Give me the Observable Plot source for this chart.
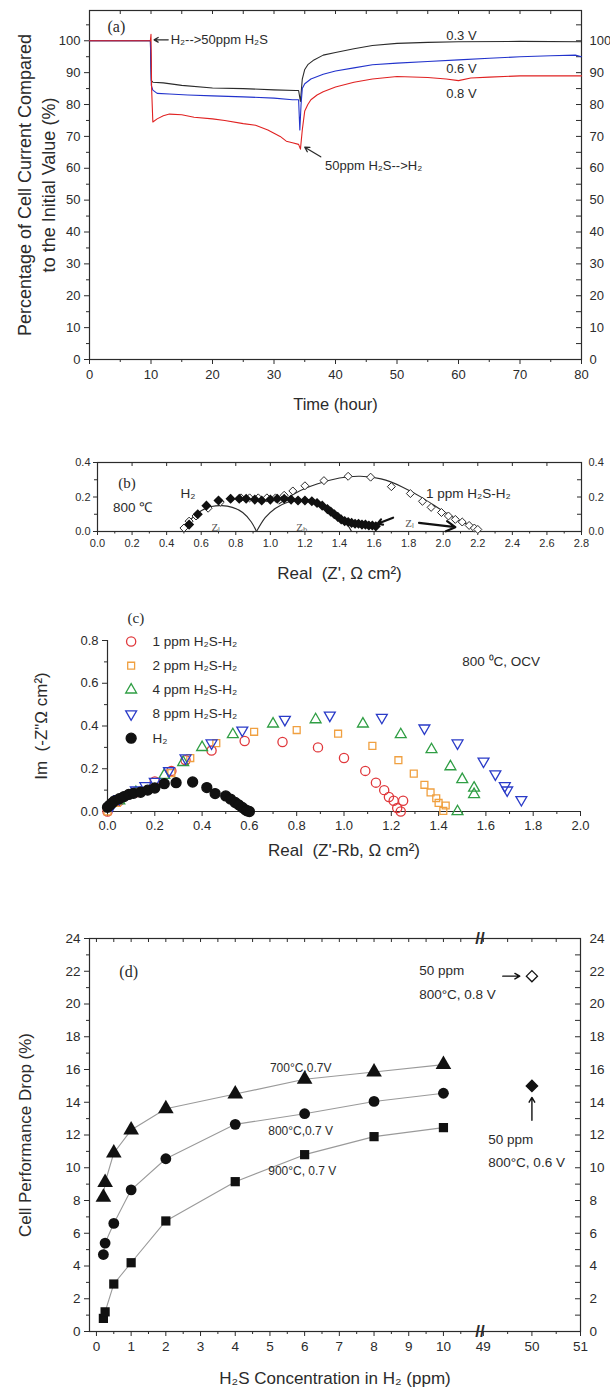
<!DOCTYPE html>
<html><head><meta charset="utf-8">
<script src="https://cdn.jsdelivr.net/npm/d3@7"></script>
<script src="https://cdn.jsdelivr.net/npm/@observablehq/plot@0.6"></script>
<style>
body{margin:0;background:#fff;}
#wrap{position:relative;width:610px;height:1391px;overflow:hidden;background:#fff;}
</style></head><body><div id="wrap"></div>
<script>
// ---------- Panel (a): current vs time ----------
const tA03 = [0, 9.9, 10.05, 10.3, 12, 15, 20, 25, 30, 33.5, 34.0, 34.3, 34.6, 35, 35.5, 36.5, 38, 40, 43, 46, 50, 55, 60, 70, 80];
const vA03 = [100, 100, 87.5, 87, 86.8, 86, 85.2, 85, 84.6, 84.4, 84.4, 81, 88, 91, 92.5, 94, 95.5, 96.3, 97.5, 98.5, 99.2, 99.5, 99.7, 99.8, 99.7];
const tA06 = [0, 9.9, 10.05, 10.3, 11, 13, 16, 20, 25, 30, 33, 34, 34.2, 34.4, 34.6, 35, 36, 38, 40, 43, 46, 50, 55, 60, 65, 70, 75, 79, 80];
const vA06 = [100, 100, 86, 84.5, 83.5, 83.3, 83, 82.7, 82.4, 82, 81.5, 81.5, 72, 80, 85, 86.5, 88, 89.5, 90.5, 91.5, 92.5, 93, 93.5, 94, 94.5, 95, 95.3, 95.5, 95];
const tA08 = [0, 9.9, 10.0, 10.1, 10.3, 11, 12, 13, 15, 17, 20, 22, 25, 27, 29, 30, 31, 32, 33, 34, 34.3, 34.6, 35, 35.5, 36, 37, 38, 40, 43, 46, 50, 55, 58, 60, 62, 65, 70, 75, 80];
const vA08 = [100, 100, 102, 85, 74.5, 75.5, 76.5, 77, 76.8, 76, 75.5, 75, 74, 73.5, 72, 71, 70, 68.5, 68, 67.5, 66, 72, 78, 80, 81.5, 83, 84, 85.5, 87, 88, 88.8, 88.5, 88, 87.5, 88.3, 88.6, 89, 89, 89];
const seriesA = ["0.3 V", "0.6 V", "0.8 V"];
const colorsA = ["#2b2b2b", "#2233cc", "#e02222"];
const xTicksA = [0, 10, 20, 30, 40, 50, 60, 70, 80];
const yTicksA = [0, 10, 20, 30, 40, 50, 60, 70, 80, 90, 100];
const notesA = [
  {t: 13.2, v: 100.3, s: "H₂-->50ppm H₂S", t0: 12.8, v0: 100.3, t1: 10.5, v1: 100.3},
  {t: 38.3, v: 60.8, s: "50ppm H₂S-->H₂", t0: 37.6, v0: 63.6, t1: 35.0, v1: 66.6}
];
const voltLabels = [{t: 58, v: 101.6, s: "0.3 V"}, {t: 58, v: 91.2, s: "0.6 V"}, {t: 58, v: 83.2, s: "0.8 V"}];

// ---------- Panel (b): Nyquist with fits ----------
const bOpenX = [0.50, 0.53, 0.57, 0.64, 0.71, 0.77, 0.83, 0.88, 0.93, 0.98, 1.03, 1.08, 1.13, 1.20, 1.31, 1.45, 1.58, 1.70, 1.81, 1.88, 1.93, 1.99, 2.03, 2.07, 2.11, 2.15, 2.18, 2.20];
const bOpenY = [0.02, 0.06, 0.09, 0.135, 0.17, 0.19, 0.195, 0.195, 0.195, 0.195, 0.195, 0.21, 0.235, 0.265, 0.295, 0.32, 0.315, 0.26, 0.22, 0.175, 0.14, 0.11, 0.09, 0.07, 0.055, 0.035, 0.02, 0.012];
const bFillX = [0.53, 0.58, 0.63, 0.70, 0.77, 0.82, 0.86, 0.91, 0.95, 1.00, 1.04, 1.08, 1.12, 1.16, 1.20, 1.24, 1.27, 1.30, 1.33, 1.35, 1.37, 1.39, 1.41, 1.43, 1.45, 1.47, 1.49, 1.51, 1.53, 1.55, 1.57, 1.59, 1.61];
const bFillY = [0.04, 0.10, 0.15, 0.18, 0.19, 0.19, 0.19, 0.185, 0.18, 0.185, 0.19, 0.19, 0.185, 0.18, 0.18, 0.175, 0.165, 0.15, 0.13, 0.115, 0.10, 0.085, 0.07, 0.06, 0.055, 0.05, 0.045, 0.045, 0.04, 0.04, 0.035, 0.035, 0.03];
const arcLX = [0.50, 0.54, 0.60, 0.66, 0.72, 0.78, 0.84, 0.89, 0.92];
const arcLY = [0.0, 0.07, 0.12, 0.145, 0.15, 0.14, 0.11, 0.055, 0.0];
const arcHX = [0.92, 0.97, 1.03, 1.10, 1.20, 1.30, 1.38, 1.44, 1.47];
const arcHY = [0.0, 0.08, 0.135, 0.17, 0.185, 0.16, 0.10, 0.045, 0.0];
const arcSX = [1.05, 1.15, 1.27, 1.40, 1.52, 1.64, 1.76, 1.88, 1.98, 2.08, 2.15, 2.20];
const arcSY = [0.16, 0.225, 0.275, 0.31, 0.32, 0.305, 0.26, 0.195, 0.13, 0.07, 0.035, 0.0];
const xTicksB = [0, 0.2, 0.4, 0.6, 0.8, 1.0, 1.2, 1.4, 1.6, 1.8, 2.0, 2.2, 2.4, 2.6, 2.8];
const yTicksB = [0, 0.2, 0.4];
const notesB = [
  {x: 0.17, y: 0.28, s: "(b)", serif: true},
  {x: 0.48, y: 0.22, s: "H₂"},
  {x: 0.09, y: 0.14, s: "800 ℃"},
  {x: 1.90, y: 0.22, s: "1 ppm H₂S-H₂"},
  {x: 0.66, y: 0.025, s: "Zₗ", small: true},
  {x: 1.15, y: 0.025, s: "Zₕ", small: true},
  {x: 1.78, y: 0.045, s: "Zₗ", small: true}
];
const arrowsB = [
  {x1: 1.71, y1: 0.08, x2: 1.62, y2: 0.045},
  {x1: 1.86, y1: 0.05, x2: 2.07, y2: 0.025}
];

// ---------- Panel (c): Nyquist, H2S levels ----------
const c1X = [0.0, 0.05, 0.12, 0.20, 0.27, 0.33, 0.44, 0.58, 0.74, 0.89, 1.00, 1.09, 1.135, 1.17, 1.19, 1.21, 1.225, 1.24, 1.25];
const c1Y = [0.0, 0.05, 0.09, 0.14, 0.19, 0.24, 0.285, 0.33, 0.325, 0.30, 0.25, 0.19, 0.135, 0.10, 0.068, 0.05, 0.016, 0.0, 0.05];
const c2X = [0.0, 0.04, 0.12, 0.27, 0.35, 0.46, 0.62, 0.80, 0.975, 1.12, 1.23, 1.295, 1.34, 1.366, 1.39, 1.40, 1.43, 1.42];
const c2Y = [0.0, 0.04, 0.09, 0.18, 0.25, 0.32, 0.373, 0.381, 0.364, 0.307, 0.24, 0.177, 0.125, 0.089, 0.062, 0.04, 0.028, 0.003];
const c4X = [0.05, 0.12, 0.24, 0.32, 0.40, 0.53, 0.70, 0.88, 1.08, 1.24, 1.37, 1.45, 1.50, 1.55, 1.55, 1.48];
const c4Y = [0.05, 0.09, 0.17, 0.23, 0.30, 0.36, 0.41, 0.43, 0.41, 0.36, 0.29, 0.21, 0.15, 0.11, 0.08, 0.0];
const c8X = [0.02, 0.05, 0.12, 0.16, 0.20, 0.26, 0.33, 0.44, 0.57, 0.75, 0.94, 1.16, 1.34, 1.48, 1.59, 1.64, 1.68, 1.69, 1.75];
const c8Y = [0.03, 0.06, 0.10, 0.12, 0.14, 0.19, 0.25, 0.32, 0.38, 0.43, 0.45, 0.44, 0.39, 0.32, 0.235, 0.175, 0.12, 0.10, 0.055];
const cHX = [0.0, 0.01, 0.02, 0.03, 0.05, 0.07, 0.09, 0.11, 0.14, 0.17, 0.20, 0.24, 0.29, 0.36, 0.42, 0.455, 0.50, 0.52, 0.54, 0.555, 0.57, 0.583, 0.59, 0.60];
const cHY = [0.02, 0.03, 0.04, 0.05, 0.06, 0.07, 0.08, 0.085, 0.09, 0.10, 0.11, 0.13, 0.135, 0.138, 0.112, 0.084, 0.073, 0.058, 0.042, 0.031, 0.019, 0.008, 0.003, 0.0];
const legendC = ["1 ppm H₂S-H₂", "2 ppm H₂S-H₂", "4 ppm H₂S-H₂", "8 ppm H₂S-H₂", "H₂"];
const xTicksC = [0, 0.2, 0.4, 0.6, 0.8, 1.0, 1.2, 1.4, 1.6, 1.8, 2.0];
const yTicksC = [0, 0.2, 0.4, 0.6, 0.8];

// ---------- Panel (d): performance drop ----------
const concD = [0.2, 0.25, 0.5, 1, 2, 4, 6, 8, 10];
const drop700 = [8.2, 9.1, 10.9, 12.3, 13.6, 14.5, 15.4, 15.85, 16.3];
const drop800 = [4.7, 5.4, 6.6, 8.65, 10.55, 12.65, 13.3, 14.05, 14.55];
const drop900 = [0.8, 1.2, 2.9, 4.2, 6.75, 9.15, 10.8, 11.9, 12.45];
const conc50 = 50;
const drop50_08 = 21.7;
const drop50_06 = 15.0;
const xTicksD = [0, 1, 2, 3, 4, 5, 6, 7, 8, 9, 10, 49, 50, 51];
const yTicksD = [0, 2, 4, 6, 8, 10, 12, 14, 16, 18, 20, 22, 24];
const breakD = 11.05;

// ---------- helpers ----------
const FONT = "Liberation Sans, Arial, Helvetica, sans-serif";
const SERIF = "Liberation Serif, Times New Roman, serif";
const INK = "#2b2b2b";
const wrap = document.getElementById("wrap");
function place(svg, top) {
  svg.style.position = "absolute";
  svg.style.left = "0px";
  svg.style.top = top + "px";
  wrap.appendChild(svg);
}
const rng = (a, b, s) => d3.range(Math.round((b - a) / s) + 1).map(i => +(a + i * s).toFixed(4));
const noText = () => "";
const f1 = d3.format(".1f");

// ---------- Panel (a) ----------
{
  const rows = [];
  [[tA03, vA03], [tA06, vA06], [tA08, vA08]].forEach(([ts, vs], k) =>
    ts.forEach((t, i) => rows.push({t, v: vs[i], s: seriesA[k]})));
  const W = 610, H = 420, mt = 10, mb = 61, ml = 89, mr = 29;
  const iw = W - ml - mr, ih = H - mt - mb;
  const svg = Plot.plot({
    width: W, height: H, marginTop: mt, marginBottom: mb, marginLeft: ml, marginRight: mr,
    x: {domain: [0, 80]}, y: {domain: [0, 109.5]},
    color: {domain: seriesA, range: colorsA},
    style: {fontFamily: FONT, fontSize: "13px", color: INK, background: "white", overflow: "visible"},
    marks: [
      Plot.frame({stroke: INK, strokeWidth: 1.2}),
      Plot.axisX({ticks: xTicksA, tickSize: 5, tickPadding: 5, fontSize: 13, label: null}),
      Plot.axisX({ticks: rng(5, 75, 10), tickSize: 3, tickFormat: noText, label: null}),
      Plot.tickX(rng(0, 80, 5), {x: d => d, insetBottom: ih - 4, stroke: INK}),
      Plot.axisY({ticks: yTicksA, tickSize: 5, tickPadding: 4, fontSize: 13, label: null}),
      Plot.axisY({ticks: rng(5, 105, 10), tickSize: 3, tickFormat: noText, label: null}),
      Plot.axisY({anchor: "right", ticks: yTicksA, tickSize: 0, tickPadding: 8, fontSize: 13, label: null}),
      Plot.tickY(rng(0, 105, 5), {y: d => d, insetLeft: iw - 5, stroke: INK}),
      Plot.line(rows, {x: "t", y: "v", z: "s", stroke: "s", strokeWidth: 1.1}),
      Plot.text(["(a)"], {frameAnchor: "top-left", dx: 18, dy: 10, fontFamily: SERIF, fontSize: 16, fill: INK}),
      Plot.text(notesA, {x: "t", y: "v", text: "s", textAnchor: "start", fontSize: 13, fill: INK}),
      Plot.arrow(notesA, {x1: "t0", y1: "v0", x2: "t1", y2: "v1", stroke: INK, strokeWidth: 1.3, headLength: 6}),
      Plot.text(voltLabels, {x: "t", y: "v", text: "s", textAnchor: "start", fontSize: 13, fill: INK}),
      Plot.text(["Percentage of Cell Current Compared\nto the Initial Value (%)"], {frameAnchor: "left", textAnchor: "middle", rotate: -90, dx: -54, dy: 0, fontSize: 18, lineHeight: 1.35, fill: INK}),
      Plot.text(["Time (hour)"], {frameAnchor: "bottom", dy: 50, fontSize: 16.5, fill: INK})
    ]
  });
  place(svg, 0);
}

// ---------- Panel (b) ----------
{
  const open = bOpenX.map((x, i) => ({x, y: bOpenY[i]}));
  const fill = bFillX.map((x, i) => ({x, y: bFillY[i]}));
  const arcs = [[arcLX, arcLY, "l"], [arcHX, arcHY, "h"], [arcSX, arcSY, "s"]]
    .flatMap(([xs, ys, k]) => xs.map((x, i) => ({x, y: ys[i], k})));
  const W = 610, H = 150, mt = 22, mb = 59, ml = 97, mr = 29;
  const iw = W - ml - mr, ih = H - mt - mb;
  const svg = Plot.plot({
    width: W, height: H, marginTop: mt, marginBottom: mb, marginLeft: ml, marginRight: mr,
    x: {domain: [0, 2.8]}, y: {domain: [0, 0.4]},
    style: {fontFamily: FONT, fontSize: "11px", color: INK, background: "white", overflow: "visible"},
    marks: [
      Plot.frame({stroke: INK, strokeWidth: 1.2}),
      Plot.axisX({ticks: xTicksB, tickSize: 4, tickPadding: 4, tickFormat: f1, fontSize: 11, label: null, style: {letterSpacing: "1px"}}),
      Plot.axisX({ticks: rng(0.1, 2.7, 0.2), tickSize: 2.5, tickFormat: noText, label: null}),
      Plot.tickX(rng(0, 2.8, 0.2), {x: d => d, insetBottom: ih - 4, stroke: INK}),
      Plot.axisY({ticks: yTicksB, tickSize: 4, tickPadding: 3, tickFormat: f1, fontSize: 11, label: null, style: {letterSpacing: "1px"}}),
      Plot.axisY({ticks: [0.1, 0.3], tickSize: 3, tickFormat: noText, label: null}),
      Plot.axisY({anchor: "right", ticks: yTicksB, tickSize: 0, tickPadding: 7, tickFormat: f1, fontSize: 11, label: null, style: {letterSpacing: "1px"}}),
      Plot.tickY(rng(0, 0.4, 0.1), {y: d => d, insetLeft: iw - 4, stroke: INK}),
      Plot.line(arcs, {x: "x", y: "y", z: "k", curve: "natural", stroke: INK, strokeWidth: 1.1}),
      Plot.dot(open, {x: "x", y: "y", symbol: "diamond2", r: 3.6, stroke: INK, fill: "white", strokeWidth: 1}),
      Plot.dot(fill, {x: "x", y: "y", symbol: "diamond2", r: 3.6, fill: "#111", stroke: "#111"}),
      Plot.arrow(arrowsB, {x1: "x1", y1: "y1", x2: "x2", y2: "y2", stroke: "#111", strokeWidth: 2.2, headLength: 7}),
      Plot.text(notesB.filter(d => d.serif), {x: "x", y: "y", text: "s", fontFamily: SERIF, fontSize: 15, fill: INK}),
      Plot.text(notesB.filter(d => !d.serif && !d.small), {x: "x", y: "y", text: "s", textAnchor: "start", fontSize: 13.5, fill: INK}),
      Plot.text(notesB.filter(d => d.small), {x: "x", y: "y", text: "s", textAnchor: "start", fontFamily: SERIF, fontSize: 11, fill: "#555"}),
      Plot.text(["Real  (Z', Ω cm²)"], {frameAnchor: "bottom", dy: 47, fontSize: 17, fill: INK})
    ]
  });
  place(svg, 440);
}

// ---------- Panel (c) ----------
{
  const sets = [[c1X, c1Y], [c2X, c2Y], [c4X, c4Y], [c8X, c8Y], [cHX, cHY]]
    .map(([xs, ys]) => xs.map((x, i) => ({x, y: ys[i]})));
  const cols = ["#e0383c", "#f0a040", "#2f9e44", "#2a3bc8", "#111"];
  const syms = ["circle", "square2", "triangle2", "triangle2", "circle"];
  const rads = [4.6, 4.4, 5.2, 5.2, 5];
  const rots = [0, 0, 0, 180, 0];
  const legRows = legendC.map((s, i) => ({s, i, x: 0.1, tx: 0.19, y: 0.795 - i * 0.113}));
  const W = 610, H = 270, mt = 40, mb = 59, ml = 107, mr = 30;
  const dotMark = (data, i) => Plot.dot(data, {
    x: "x", y: "y", symbol: syms[i], r: rads[i], rotate: rots[i],
    stroke: cols[i], strokeWidth: 1.3, fill: i === 4 ? "#111" : "none"
  });
  const svg = Plot.plot({
    width: W, height: H, marginTop: mt, marginBottom: mb, marginLeft: ml, marginRight: mr,
    x: {domain: [0, 2.0]}, y: {domain: [0, 0.8]},
    style: {fontFamily: FONT, fontSize: "13px", color: INK, background: "white", overflow: "visible"},
    marks: [
      Plot.ruleX([0], {stroke: INK, strokeWidth: 1.2}),
      Plot.ruleY([0], {stroke: INK, strokeWidth: 1.2}),
      Plot.axisX({ticks: xTicksC, tickSize: 5, tickPadding: 4, tickFormat: f1, fontSize: 13, label: null}),
      Plot.axisX({ticks: rng(0.1, 1.9, 0.2), tickSize: 3, tickFormat: noText, label: null}),
      Plot.axisY({ticks: yTicksC, tickSize: 5, tickPadding: 4, tickFormat: f1, fontSize: 13, label: null}),
      Plot.axisY({ticks: rng(0.1, 0.7, 0.2), tickSize: 3, tickFormat: noText, label: null}),
      ...sets.map((d, i) => dotMark(d, i)),
      ...legRows.map(d => dotMark([{x: d.x, y: d.y}], d.i)),
      Plot.text(legRows, {x: "tx", y: "y", text: "s", textAnchor: "start", fontSize: 13.5, fill: INK}),
      Plot.text(["800 ⁰C, OCV"], {x: [1.5], y: [0.70], textAnchor: "start", fontSize: 13.5, fill: INK}),
      Plot.text(["(c)"], {frameAnchor: "top-left", dx: 20, dy: -28, fontFamily: SERIF, fontSize: 15, fill: INK}),
      Plot.text(["Im  (-Z\"Ω cm²)"], {frameAnchor: "left", textAnchor: "middle", rotate: -90, dx: -66, fontSize: 17, fill: INK}),
      Plot.text(["Real  (Z'-Rb, Ω cm²)"], {frameAnchor: "bottom", dy: 44, fontSize: 17, fill: INK})
    ]
  });
  place(svg, 600);
}

// ---------- Panel (d) ----------
{
  const brk = v => v < 30 ? v : 11.15 + (v - 49) * 1.40;
  const rows = [
    ...concD.map((c, i) => ({x: brk(c), y: drop700[i], s: "t"})),
    ...concD.map((c, i) => ({x: brk(c), y: drop800[i], s: "c"})),
    ...concD.map((c, i) => ({x: brk(c), y: drop900[i], s: "q"}))
  ];
  const W = 610, H = 491, mt = 38, mb = 60, ml = 89, mr = 30;
  const iw = W - ml - mr, ih = H - mt - mb;
  const tickLab = new Map(xTicksD.map(v => [+brk(v).toFixed(4), String(v)]));
  const minorX = [...rng(0.5, 9.5, 1), 10.5, 49.5, 50.5].map(brk);
  const svg = Plot.plot({
    width: W, height: H, marginTop: mt, marginBottom: mb, marginLeft: ml, marginRight: mr,
    x: {domain: [-0.2, brk(51)]}, y: {domain: [0, 24]},
    style: {fontFamily: FONT, fontSize: "13.5px", color: INK, background: "white", overflow: "visible"},
    marks: [
      Plot.frame({stroke: INK, strokeWidth: 1.2}),
      Plot.axisX({ticks: xTicksD.map(brk), tickSize: 5, tickPadding: 5, tickFormat: v => tickLab.get(+v.toFixed(4)), fontSize: 13.5, label: null}),
      Plot.axisX({ticks: minorX, tickSize: 3, tickFormat: noText, label: null}),
      Plot.tickX([...xTicksD.map(brk), ...minorX], {x: d => d, insetBottom: ih - 4, stroke: INK}),
      Plot.axisY({ticks: yTicksD, tickSize: 5, tickPadding: 4, fontSize: 13.5, label: null}),
      Plot.axisY({ticks: rng(1, 23, 2), tickSize: 3, tickFormat: noText, label: null}),
      Plot.axisY({anchor: "right", ticks: yTicksD, tickSize: 0, tickPadding: 9, fontSize: 13.5, label: null}),
      Plot.tickY(rng(0, 24, 1), {y: d => d, insetLeft: iw - 5, stroke: INK}),
      Plot.line(rows, {x: "x", y: "y", z: "s", stroke: "#9a9a9a", strokeWidth: 1.1}),
      Plot.dot(rows.filter(d => d.s === "t"), {x: "x", y: "y", symbol: "triangle", r: 5.8, fill: "#111"}),
      Plot.dot(rows.filter(d => d.s === "c"), {x: "x", y: "y", symbol: "circle", r: 5.4, fill: "#111"}),
      Plot.dot(rows.filter(d => d.s === "q"), {x: "x", y: "y", symbol: "square", r: 5.2, fill: "#111"}),
      Plot.dot([{x: brk(conc50), y: drop50_08}], {x: "x", y: "y", symbol: "diamond2", r: 5, stroke: "#111", fill: "white", strokeWidth: 1.3}),
      Plot.dot([{x: brk(conc50), y: drop50_06}], {x: "x", y: "y", symbol: "diamond2", r: 5, stroke: "#111", fill: "#111"}),
      Plot.arrow([{x1: brk(49.4), x2: brk(49.75), y: drop50_08}], {x1: "x1", x2: "x2", y1: "y", y2: "y", stroke: "#111", strokeWidth: 1.4, headLength: 6}),
      Plot.arrow([{x: brk(conc50), y1: drop50_06 - 2.1, y2: drop50_06 - 0.7}], {x1: "x", x2: "x", y1: "y1", y2: "y2", stroke: "#111", strokeWidth: 1.4, headLength: 6}),
      Plot.text([{x: 9.3, y: 22.05, s: "50 ppm"}, {x: 9.3, y: 20.6, s: "800°C, 0.8 V"}, {x: brk(49.1), y: 11.7, s: "50 ppm"}, {x: brk(49.1), y: 10.3, s: "800°C, 0.6 V"}],
        {x: "x", y: "y", text: "s", textAnchor: "start", fontSize: 13.5, fill: INK}),
      Plot.text([{x: 5.0, y: 16.1, s: "700°C,0.7V"}, {x: 4.95, y: 12.25, s: "800°C,0.7 V"}, {x: 4.95, y: 9.8, s: "900°C, 0.7 V"}],
        {x: "x", y: "y", text: "s", textAnchor: "start", fontSize: 12, fill: INK, style: {letterSpacing: "-0.3px"}}),
      Plot.text([{x: 0.66, y: 21.95, s: "(d)"}], {x: "x", y: "y", text: "s", textAnchor: "start", fontFamily: SERIF, fontSize: 16, fill: INK}),
      Plot.text(["//"], {x: [breakD], frameAnchor: "bottom", lineAnchor: "middle", fontSize: 17, fontWeight: "bold", fill: INK}),
      Plot.text(["//"], {x: [breakD], frameAnchor: "top", lineAnchor: "middle", fontSize: 17, fontWeight: "bold", fill: INK}),
      Plot.text(["Cell Performance Drop (%)"], {frameAnchor: "left", textAnchor: "middle", rotate: -90, dx: -64, fontSize: 17, fill: INK}),
      Plot.text(["H₂S Concentration in H₂ (ppm)"], {frameAnchor: "bottom", dy: 52, fontSize: 17, fill: INK})
    ]
  });
  place(svg, 900);
}
</script></body></html>
